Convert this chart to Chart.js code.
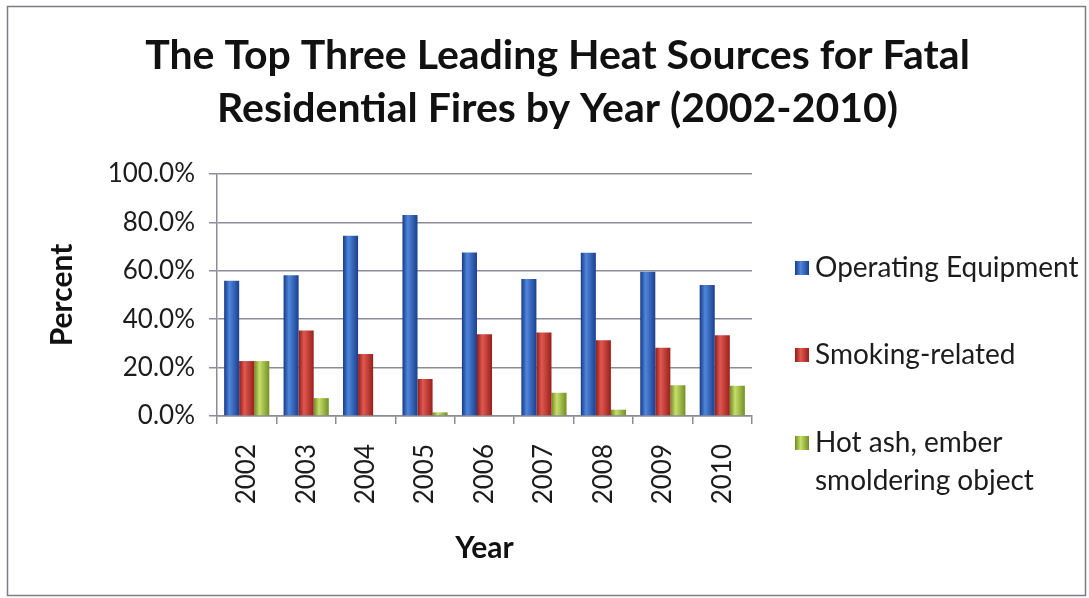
<!DOCTYPE html>
<html>
<head>
<meta charset="utf-8">
<script src="https://cdn.jsdelivr.net/npm/chart.js@4.4.1/dist/chart.umd.min.js"></script>
<style>
  html,body{margin:0;padding:0;background:#fff;}
  #wrap{width:1089px;height:598px;}
</style>
</head>
<body>
<div id="wrap"><canvas id="c" width="1089" height="598"></canvas></div>
<script>
const years=["2002","2003","2004","2005","2006","2007","2008","2009","2010"];
const operating=[55.9,58.1,74.5,83.0,67.5,56.6,67.4,59.6,54.1];
const smoking=[22.7,35.3,25.6,15.3,33.8,34.5,31.3,28.2,33.4];
const hotAsh=[22.7,7.4,0,1.5,0,9.6,2.6,12.7,12.5];
const seriesNames=["Operating Equipment","Smoking-related","Hot ash, ember\nsmoldering object"];
const yTicks=[0,20,40,60,80,100];

// base colour + gradient stops (dark edge, highlight, dark edge)
const colors=["#2a55b2","#c3312b","#9dbb3c"];
const shades=[
  ["#173a86","#4f86dc","#1b3f8e"],
  ["#8f1b18","#e0584f","#98201c"],
  ["#6f8a22","#c6de6a","#738f24"]
];

const FONT="Lato, 'Open Sans', sans-serif";
const INK="#1c1c1c";
const GRID="#8c8c98";

// white page + thin frame
const frame={
  id:"frame",
  beforeDraw(chart){
    const ctx=chart.ctx;
    ctx.save();
    ctx.fillStyle="#fff";
    ctx.fillRect(0,0,chart.width,chart.height);
    ctx.strokeStyle="#7c7c88";
    ctx.lineWidth=1.5;
    ctx.strokeRect(7.5,6.5,1078,589);
    ctx.restore();
  }
};

// cylinder-ish shading on each bar
const shading={
  id:"shading",
  beforeDatasetsDraw(chart){
    chart.data.datasets.forEach((ds,i)=>{
      const meta=chart.getDatasetMeta(i);
      meta.data.forEach(el=>{
        const x0=el.x-el.width/2, x1=el.x+el.width/2;
        if(!isFinite(x0)) return;
        const g=chart.ctx.createLinearGradient(x0,0,x1,0);
        g.addColorStop(0,shades[i][0]);
        g.addColorStop(0.35,shades[i][1]);
        g.addColorStop(1,shades[i][2]);
        el.options.backgroundColor=g;
      });
    });
  }
};

// legend on the right, spaced like the original
const sideLegend={
  id:"sideLegend",
  afterDraw(chart){
    const ctx=chart.ctx, a=chart.chartArea;
    const x=a.right+43;
    const rows=[a.top+94,a.top+181,a.top+269];
    ctx.save();
    ctx.font="28px "+FONT;
    ctx.textBaseline="middle";
    seriesNames.forEach((name,i)=>{
      const y=rows[i];
      const g=ctx.createLinearGradient(x,0,x+14,0);
      g.addColorStop(0,shades[i][0]);g.addColorStop(0.4,shades[i][1]);g.addColorStop(1,shades[i][2]);
      ctx.fillStyle=g;
      ctx.fillRect(x,y-7,14,14);
      ctx.fillStyle=INK;
      name.split("\n").forEach((ln,k)=>ctx.fillText(ln,x+20,y+k*38));
    });
    ctx.restore();
  }
};

new Chart(document.getElementById("c"),{
  type:"bar",
  data:{
    labels:years,
    datasets:[
      {label:seriesNames[0].replace("\n"," "),data:operating},
      {label:seriesNames[1].replace("\n"," "),data:smoking},
      {label:seriesNames[2].replace("\n"," "),data:hotAsh}
    ].map((d,i)=>Object.assign(d,{
      backgroundColor:()=>colors[i],
      borderWidth:0,
      barPercentage:1,
      categoryPercentage:0.76
    }))
  },
  options:{
    responsive:false,
    animation:false,
    layout:{padding:{left:30,right:4,top:0,bottom:30}},
    plugins:{
      legend:{display:false},
      tooltip:{enabled:false},
      title:{
        display:true,
        text:["The Top Three Leading Heat Sources for Fatal","Residential Fires by Year (2002-2010)"],
        color:"#111",
        font:{family:FONT,size:41,weight:"bold",lineHeight:1.28},
        padding:{top:30,bottom:39}
      }
    },
    scales:{
      x:{
        afterFit(s){s.height=152;},
        grid:{offset:true,drawOnChartArea:false,drawTicks:true,tickLength:8,color:GRID,lineWidth:1.5},
        border:{color:GRID,width:1.5},
        ticks:{color:INK,font:{family:FONT,size:26},maxRotation:90,minRotation:90,padding:20},
        title:{display:true,text:"Year",color:"#111",font:{family:FONT,size:30,weight:"bold"},padding:{top:0,bottom:2}}
      },
      y:{
        min:0,max:100,
        afterFit(s){s.width=187;},
        afterBuildTicks(s){s.ticks=yTicks.map(v=>({value:v}));},
        grid:{color:GRID,lineWidth:1.5,tickLength:8},
        border:{color:GRID,width:1.5},
        ticks:{color:INK,font:{family:FONT,size:26},padding:14,callback:v=>v.toFixed(1)+"%"},
        title:{display:true,text:"Percent",color:"#111",font:{family:FONT,size:30,weight:"bold"},padding:{top:14,bottom:0}}
      },
      // empty right-hand box that leaves room for the legend
      side:{
        type:"linear",position:"right",display:true,
        afterFit(s){s.width=333;},
        grid:{display:false,drawTicks:false},
        border:{display:false},
        ticks:{display:false}
      }
    }
  },
  plugins:[frame,shading,sideLegend]
});
</script>
</body>
</html>
